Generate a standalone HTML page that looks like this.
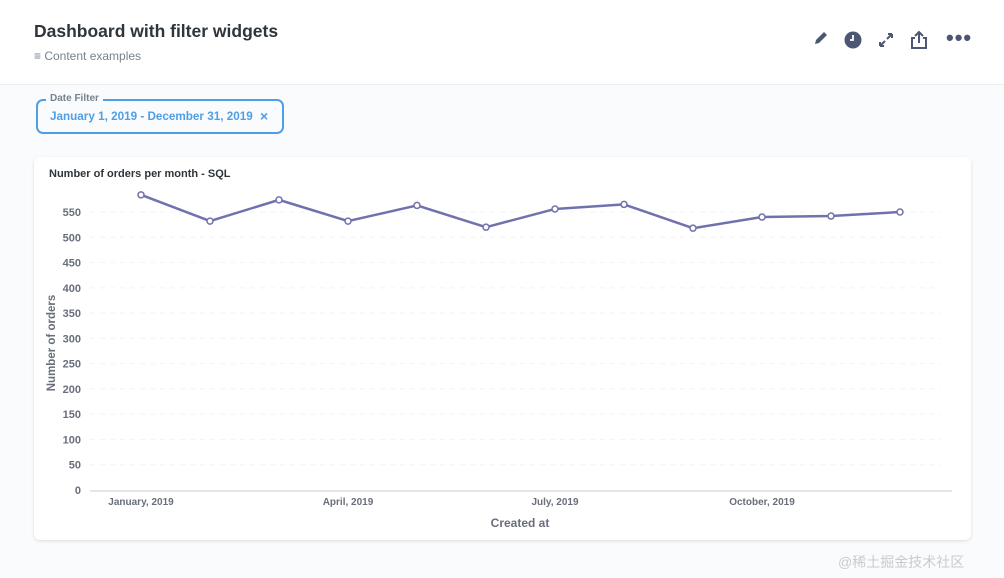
<!DOCTYPE html>
<html><head><meta charset="utf-8"><style>
body{margin:0;width:1004px;height:578px;background:#f9fbfc;font-family:"Liberation Sans",sans-serif;position:relative;overflow:hidden}
.hdr{position:absolute;left:0;top:0;width:1004px;height:84px;background:#fff;border-bottom:1px solid #eceff1}
.title{position:absolute;left:34px;top:21px;font-size:17.5px;font-weight:bold;color:#2e353b}
.sub{position:absolute;left:34px;top:49px;font-size:12px;color:#74838f}
.icon{position:absolute;top:30px}
.filter{position:absolute;left:36px;top:99px;width:248px;height:35px;border:2px solid #509ee3;border-radius:7px;box-sizing:border-box}
.flabel{position:absolute;left:46px;top:93px;background:#f9fbfc;padding:0 4px;font-size:10px;color:#74838f;font-weight:bold}
.fval{position:absolute;left:50px;top:110px;font-size:11.7px;color:#509ee3;font-weight:bold}
.fx{position:absolute;left:260px;top:108px;font-size:14px;color:#509ee3;font-weight:bold}
.card{position:absolute;left:34px;top:157px;width:937px;height:383px;background:#fff;border-radius:6px;box-shadow:0 1px 3px rgba(0,0,0,.12)}
</style></head><body>
<div class="hdr">
<div class="title">Dashboard with filter widgets</div>
<div class="sub">&#8801; Content examples</div>
<svg class="icon" style="left:813px" width="16" height="16"><path d="M2 14 L3 10 L11 2 L14 5 L6 13 Z" fill="#4c5773"/></svg>
<svg class="icon" style="left:844px;top:31px" width="18" height="18"><circle cx="9" cy="9" r="8.5" fill="#4c5773"/><path d="M9 4 V9 H6" stroke="#fff" stroke-width="1.8" fill="none"/></svg>
<svg class="icon" style="left:878px;top:32px" width="16" height="16"><path d="M2 14 L7 9 M2 14 H6 M2 14 V10 M14 2 L9 7 M14 2 H10 M14 2 V6" stroke="#4c5773" stroke-width="2" fill="none"/></svg>
<svg class="icon" style="left:910px;top:30px" width="18" height="20"><path d="M5 8 H2 V18 H16 V8 H13 M9 13 V2 M5 6 L9 2 L13 6" stroke="#4c5773" stroke-width="2" fill="none"/></svg>
<div style="position:absolute;left:946px;top:32px;font-size:22px;color:#4c5773;font-weight:bold;line-height:12px;letter-spacing:1px">&bull;&bull;&bull;</div>
</div>
<div class="filter"></div>
<div class="flabel">Date Filter</div>
<div class="fval">January 1, 2019 - December 31, 2019</div>
<div class="fx">×</div>
<div class="card"></div>
<svg id="chart" width="1004" height="578" style="position:absolute;left:0;top:0">
<text x="49" y="177" font-size="11" font-weight="bold" fill="#2e353b">Number of orders per month - SQL</text>
<text x="0" y="0" transform="translate(55,343) rotate(-90)" text-anchor="middle" font-size="11.5" font-weight="bold" fill="#696e7b">Number of orders</text>
<text x="520" y="527" text-anchor="middle" font-size="12" font-weight="bold" fill="#696e7b">Created at</text>
</svg>
<div style="position:absolute;left:838px;top:552px;font-size:14px;color:#c8ccd0;font-family:'Liberation Sans','Noto Sans CJK SC',sans-serif">@稀土掘金技术社区</div>
<script>
const months=["Jan","Feb","Mar","Apr","May","Jun","Jul","Aug","Sep","Oct","Nov","Dec"];
const orders=[584,532,574,532,563,520,556,565,518,540,542,550];
const yTicks=[0,50,100,150,200,250,300,350,400,450,500,550];
const xTickLabels=["January, 2019","April, 2019","July, 2019","October, 2019"];
const xTickIdx=[0,3,6,9];
const NS="http://www.w3.org/2000/svg";
const svg=document.getElementById('chart');
const y=v=>490-v*(278/550);
const x=i=>141+i*69;
function mk(t,a){const e=document.createElementNS(NS,t);for(const k in a)e.setAttribute(k,a[k]);svg.appendChild(e);return e;}
yTicks.forEach(v=>{
 if(v>0){const g=mk('line',{x1:90,x2:942,y1:y(v),y2:y(v),stroke:'#f2f4f5','stroke-dasharray':'5,5'});
 
 }
 const t=mk('text',{x:81,y:y(v)+4,'text-anchor':'end','font-size':11,'font-weight':'bold',fill:'#696e7b'});t.textContent=v;
 
 
});
const ax=mk('line',{x1:90,x2:952,y1:491,y2:491,stroke:'#c9ced3'});


xTickLabels.forEach((l,j)=>{
 const t=mk('text',{x:x(xTickIdx[j]),y:505,'text-anchor':'middle','font-size':10,'font-weight':'bold',fill:'#696e7b'});t.textContent=l;
 
 
});
const p=mk('polyline',{points:orders.map((v,i)=>x(i)+','+y(v)).join(' '),fill:'none',stroke:'#7172ad','stroke-width':2.5});


orders.forEach((v,i)=>{
 const c=mk('circle',{cx:x(i),cy:y(v),r:3,fill:'#fff',stroke:'#7172ad','stroke-width':1.5});
 
 
});
</script>
</body></html>
